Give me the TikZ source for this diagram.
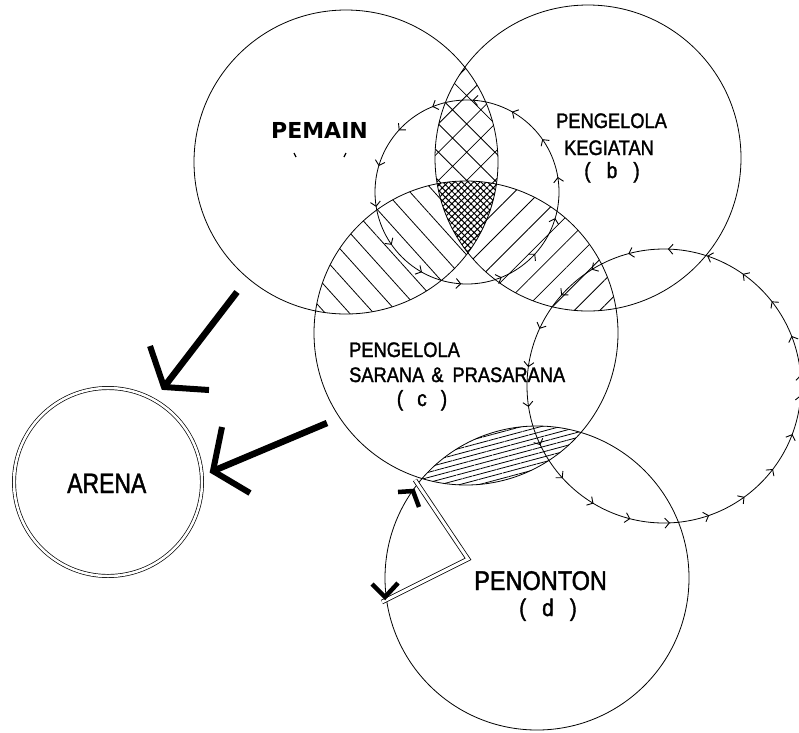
\documentclass[tikz,border=0pt]{standalone}
\usepackage{fontspec}
\usetikzlibrary{patterns,patterns.meta,decorations.markings,arrows.meta}
\newfontfamily\cad[FakeStretch=0.87,FakeBold=1.5]{Liberation Sans}
\newfontfamily\cadw[FakeStretch=0.82,FakeBold=1.5]{Liberation Sans}
\newfontfamily\pemfont{DejaVu Sans}
\begin{document}
\begin{tikzpicture}[x=1pt,y=-1pt,
  circ/.style={line width=0.8pt},
  flowmarks/.style n args={2}{postaction={decorate,decoration={markings,
      mark=between positions #1 and 1 step #2 with {\arrow{Straight Barb[length=4.5pt,width=10pt,line width=0.9pt]}}}}},
  bigarrow/.style={line width=6.5pt},
  bigbarb/.style={line width=6pt,line join=miter},
  smallbarb/.style={line width=4.5pt,line join=miter},
  lbl/.style={anchor=base west,inner sep=0pt},
  lblc/.style={anchor=base,inner sep=0pt}]
\fill[white] (0,0) rectangle (799,732);
\useasboundingbox (0,0) rectangle (799,732);

% centres
\coordinate (cA) at (346,162);
\coordinate (cB) at (588,158);
\coordinate (cC) at (466,333);
\coordinate (cD) at (537,578);
\coordinate (cE) at (664,386);
\coordinate (cS) at (467,192);
\coordinate (cR) at (108,482);

% hatched regions
\begin{scope}
  \clip (cA) circle[radius=152];
  \clip (cB) circle[radius=153];
  \fill[pattern={Hatch[angle=45,distance=20pt,line width=0.8pt]}] (0,0) rectangle (799,732);
\end{scope}
\begin{scope}
  \clip (cA) circle[radius=152];
  \clip (cC) circle[radius=152];
  \fill[white] (0,0) rectangle (799,732);
  \fill[pattern={Lines[angle=-48,distance=18pt,line width=0.8pt]}] (0,0) rectangle (799,732);
\end{scope}
\begin{scope}
  \clip (cB) circle[radius=153];
  \clip (cC) circle[radius=152];
  \fill[white] (0,0) rectangle (799,732);
  \fill[pattern={Lines[angle=45,distance=18pt,line width=0.8pt]}] (0,0) rectangle (799,732);
\end{scope}
\begin{scope}
  \clip (cA) circle[radius=152];
  \clip (cB) circle[radius=153];
  \clip (cC) circle[radius=152];
  \fill[white] (0,0) rectangle (799,732);
  \fill[pattern={Hatch[angle=45,distance=4.5pt,line width=1pt]}] (0,0) rectangle (799,732);
\end{scope}
\begin{scope}
  \clip (cC) circle[radius=152];
  \clip (cD) circle[radius=152];
  \fill[pattern={Lines[angle=15,distance=5pt,line width=0.8pt]}] (0,0) rectangle (799,732);
\end{scope}

% circles
\draw[circ] (cA) circle[radius=152];
\draw[circ] (cB) circle[radius=153];
\draw[circ] (cC) circle[radius=152];
\draw[circ] (cD) circle[radius=152];
\draw[circ,double,double distance=2.5pt,line width=0.7pt] (cR) circle[radius=94];

% flow circles with arrow marks
\draw[circ,flowmarks={0.026}{0.0714}] (cS) ++(92,0) arc[start angle=0,end angle=-360,radius=92];
\draw[circ,flowmarks={0.013}{0.0465}] (cE) ++(137,0) arc[start angle=0,end angle=-360,radius=137];

% double-line passage and arc tips on circle D
\coordinate (p1) at (415,480);
\coordinate (p2) at (468,559);
\coordinate (p3) at (382,602);
\draw[double,double distance=3pt,line width=0.8pt] (p1) -- (p2) -- (p3);
\coordinate (t1) at (413,491);
\coordinate (t1a) at (398,492);
\coordinate (t1b) at (419,507);
\draw[smallbarb] (t1a) -- (t1) -- (t1b);
\coordinate (t2) at (385,597);
\coordinate (t2a) at (372,584);
\coordinate (t2b) at (398,583);
\draw[smallbarb] (t2a) -- (t2) -- (t2b);

% thick arrows toward ARENA
\coordinate (a1s) at (237,292);
\coordinate (a1t) at (164,387);
\coordinate (a1l) at (150,346);
\coordinate (a1r) at (209,390);
\draw[bigarrow] (a1s) -- (a1t);
\draw[bigbarb] (a1l) -- (a1t) -- (a1r);
\coordinate (a2s) at (327,423);
\coordinate (a2t) at (213,471);
\coordinate (a2l) at (222,427);
\coordinate (a2r) at (250,493);
\draw[bigarrow] (a2s) -- (a2t);
\draw[bigbarb] (a2l) -- (a2t) -- (a2r);

% small stray marks under PEMAIN
\draw[line width=1.2pt] (294,153) -- (296,157);
\draw[line width=1.2pt] (346,153) -- (344,157);

% labels
\node[lbl,font=\pemfont\bfseries\fontsize{22pt}{26pt}\selectfont] (pemain) at (271,138) {PEMAIN};
\node[lbl,font=\cad\fontsize{21pt}{25pt}\selectfont] (pkg1) at (556,128) {PENGELOLA};
\node[lbl,font=\cad\fontsize{21pt}{25pt}\selectfont] (pkg2) at (564,155) {KEGIATAN};
\node[lblc,font=\cad\fontsize{22pt}{25pt}\selectfont] (pkg3) at (612,178) {(\hspace{16pt}b\hspace{16pt})};
\node[lbl,font=\cad\fontsize{21pt}{25pt}\selectfont] (psp1) at (349,357) {PENGELOLA};
\node[lbl,font=\cad\fontsize{21pt}{25pt}\selectfont] (psp2) at (349,382) {SARANA\hspace{7pt}\&\hspace{9pt}PRASARANA};
\node[lblc,font=\cad\fontsize{22pt}{25pt}\selectfont] (psp3) at (422,406) {(\hspace{14pt}c\hspace{14pt})};
\node[lbl,font=\cad\fontsize{27pt}{31pt}\selectfont] (pen1) at (474,590) {PENONTON};
\node[lblc,font=\cad\fontsize{24pt}{28pt}\selectfont] (pen2) at (548,616) {(\hspace{16pt}d\hspace{16pt})};
\node[lbl,font=\cadw\fontsize{28pt}{32pt}\selectfont] (arena) at (67,493) {ARENA};
\end{tikzpicture}
\end{document}
